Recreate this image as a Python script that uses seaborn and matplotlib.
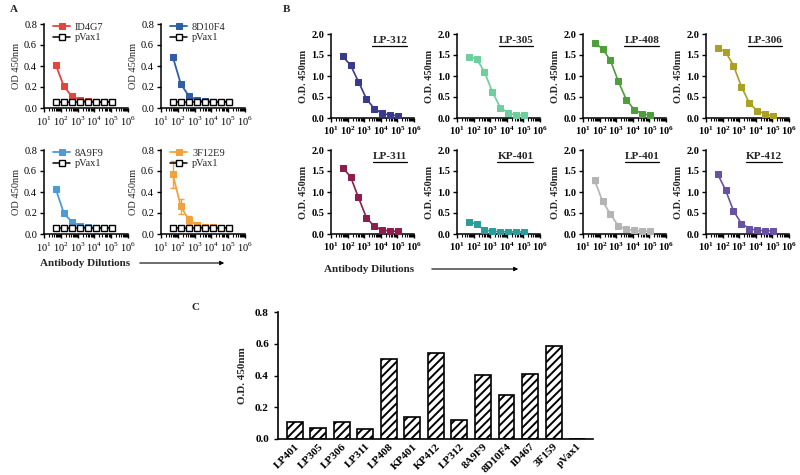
import math
import matplotlib
matplotlib.use('Agg')
import matplotlib.pyplot as plt
from matplotlib.lines import Line2D
from matplotlib.ticker import LogLocator, FuncFormatter, NullFormatter, FormatStrFormatter
import seaborn as sns
import pandas as pd

# ---- data ----
dilutions = [50, 150, 450, 1350, 4050, 12150, 36450, 109350]

# panel A (OD 450nm)
id4g7 = [0.41, 0.21, 0.11, 0.08, 0.065, 0.06, 0.06, 0.06]
d8d10f4 = [0.49, 0.23, 0.115, 0.075, 0.063, 0.06, 0.06, 0.06]
d8a9f9 = [0.43, 0.20, 0.115, 0.08, 0.063, 0.06, 0.06, 0.06]
d3f12e9 = [0.57, 0.265, 0.135, 0.085, 0.065, 0.062, 0.06, 0.06]
d3f12e9_err = [0.13, 0.07, 0.035, 0.015, 0.01, 0.01, 0.008, 0.008]
pvax1 = [0.06, 0.055, 0.055, 0.058, 0.058, 0.055, 0.055, 0.06]
a_names = ['ID4G7', '8D10F4', '8A9F9', '3F12E9']
a_colors = ['#e4443c', '#2f5ea6', '#4a9bd6', '#f2a23a']

# panel B (O.D. 450nm)
lp312 = [1.47, 1.26, 0.865, 0.46, 0.22, 0.11, 0.07, 0.055]
lp305 = [1.46, 1.41, 1.10, 0.62, 0.25, 0.12, 0.07, 0.06]
lp408 = [1.79, 1.65, 1.37, 0.87, 0.44, 0.20, 0.10, 0.065]
lp306 = [1.66, 1.58, 1.25, 0.75, 0.36, 0.17, 0.10, 0.04]
lp311 = [1.58, 1.365, 0.87, 0.39, 0.18, 0.095, 0.07, 0.065]
kp401 = [0.29, 0.24, 0.095, 0.065, 0.055, 0.05, 0.05, 0.05]
lp401 = [1.28, 0.78, 0.475, 0.19, 0.11, 0.085, 0.07, 0.065]
lp401_err = [0.06, 0.03, 0.02, 0.01, 0.01, 0.01, 0.01, 0.01]
kp412 = [1.43, 1.05, 0.555, 0.25, 0.13, 0.085, 0.08, 0.075]
b_names = ['LP-312', 'LP-305', 'LP-408', 'LP-306', 'LP-311', 'KP-401', 'LP-401', 'KP-412']
b_colors = ['#3a3a8c', '#6ccf9c', '#4f9e3c', '#a9a024', '#8c1d4e', '#2a9c9a', '#b4b4b4', '#6a52a3']

# panel C
c_labels = ['LP401', 'LP305', 'LP306', 'LP311', 'LP408', 'KP401', 'KP412',
            'LP312', '8A9F9', '8D10F4', 'ID467', '3F159', 'pVax1']
c_values = [0.105, 0.068, 0.108, 0.064, 0.505, 0.14, 0.54,
            0.122, 0.402, 0.276, 0.408, 0.588, 0.0]

# ---- style ----
sns.set_theme(style='ticks')
plt.rcParams['font.family'] = ['Liberation Serif', 'DejaVu Serif']
plt.rcParams['mathtext.fontset'] = 'custom'
plt.rcParams['mathtext.rm'] = 'Liberation Serif'
plt.rcParams['mathtext.bf'] = 'Liberation Serif:bold'
plt.rcParams['hatch.linewidth'] = 1.4

W, H = 800, 475
fig = plt.figure(figsize=(8, 4.75), dpi=100)


def px_axes(left, top, width, height):
    return fig.add_axes([left / W, 1 - (top + height) / H, width / W, height / H])


def style_axis(ax, bold):
    for s in ['top', 'right']:
        ax.spines[s].set_visible(False)
    for s in ['left', 'bottom']:
        ax.spines[s].set_linewidth(1.1)
        ax.spines[s].set_color('black')
    ax.tick_params(axis='both', which='major', length=3, width=1, labelsize=7.5, pad=2, colors='black')
    if bold:
        for lab in ax.get_yticklabels() + ax.get_xticklabels():
            lab.set_fontweight('bold')


def log_axis(ax, bold):
    ax.set_xscale('log')
    ax.set_xlim(10, 1e6)
    ax.xaxis.set_major_locator(LogLocator(base=10, numticks=10))
    ax.xaxis.set_minor_locator(LogLocator(base=10, subs=range(2, 10), numticks=20))
    ax.xaxis.set_minor_formatter(NullFormatter())
    if bold:
        fmt = lambda v, p: r'$\mathbf{10^{%d}}$' % round(math.log10(v))
    else:
        fmt = lambda v, p: r'$10^{%d}$' % round(math.log10(v))
    ax.xaxis.set_major_formatter(FuncFormatter(fmt))
    ax.tick_params(axis='x', which='minor', length=1.8, width=0.8, colors='black')
    ax.set_xlabel('')


# ---- panel A ----
a_series = [id4g7, d8d10f4, d8a9f9, d3f12e9]
a_pos = [(44, 24), (161, 24), (44, 150), (161, 150)]
for i, (name, color, vals) in enumerate(zip(a_names, a_colors, a_series)):
    ax = px_axes(a_pos[i][0], a_pos[i][1], 84, 84)
    df = pd.DataFrame({'dil': dilutions, 'od': vals})
    dfp = pd.DataFrame({'dil': dilutions, 'od': pvax1})
    if name == '3F12E9':
        ax.errorbar(dilutions, vals, yerr=d3f12e9_err, fmt='none', ecolor=color,
                    elinewidth=1, capsize=2.5, zorder=2)
    sns.lineplot(data=df, x='dil', y='od', ax=ax, color=color, marker='s',
                 markersize=5, markeredgecolor=color, linewidth=1.3, label=name, zorder=3)
    sns.lineplot(data=dfp, x='dil', y='od', ax=ax, color='black', marker='s',
                 markersize=5, markerfacecolor='white', markeredgecolor='black',
                 markeredgewidth=1, linewidth=1.1, label='pVax1', zorder=4)
    log_axis(ax, bold=False)
    ax.set_ylim(0, 0.8)
    ax.set_yticks([0, 0.2, 0.4, 0.6, 0.8])
    ax.yaxis.set_major_formatter(FormatStrFormatter('%.1f'))
    style_axis(ax, bold=False)
    ax.set_ylabel('OD 450nm', fontsize=7.5, labelpad=2)
    ax.legend(loc='upper left', bbox_to_anchor=(0.06, 1.07), frameon=False,
              fontsize=7.5, handlelength=1.6, handletextpad=0.5,
              labelspacing=0.15, borderaxespad=0)

# ---- panel B ----
b_series = [lp312, lp305, lp408, lp306, lp311, kp401, lp401, kp412]
b_lefts = [331, 457, 583, 706]
b_tops = [34, 150]
b_titles = []
for i, (name, color, vals) in enumerate(zip(b_names, b_colors, b_series)):
    ax = px_axes(b_lefts[i % 4], b_tops[i // 4], 83, 84)
    df = pd.DataFrame({'dil': dilutions, 'od': vals})
    if name == 'LP-401':
        ax.errorbar(dilutions, vals, yerr=lp401_err, fmt='none', ecolor=color,
                    elinewidth=1, capsize=2, zorder=2)
    sns.lineplot(data=df, x='dil', y='od', ax=ax, color=color, marker='s',
                 markersize=4, markeredgecolor=color, linewidth=1.2, zorder=3)
    log_axis(ax, bold=True)
    ax.set_ylim(0, 2.0)
    ax.set_yticks([0, 0.5, 1.0, 1.5, 2.0])
    ax.yaxis.set_major_formatter(FormatStrFormatter('%.1f'))
    style_axis(ax, bold=True)
    ax.set_ylabel('O.D. 450nm', fontsize=7.5, fontweight='bold', labelpad=2)
    t = ax.text(0.92, 0.98, name, transform=ax.transAxes, ha='right', va='top',
                fontsize=8, fontweight='bold')
    b_titles.append(t)

# ---- panel C ----
axc = px_axes(278, 312, 315, 127)
dfc = pd.DataFrame({'sample': c_labels, 'od': c_values})
sns.barplot(data=dfc, x='sample', y='od', ax=axc, color='white', edgecolor='black',
            linewidth=1.2, hatch='////', width=0.68, saturation=1)
axc.set_xlim(-0.72, 12.68)
axc.set_ylim(0, 0.8)
axc.set_yticks([0, 0.2, 0.4, 0.6, 0.8])
axc.yaxis.set_major_formatter(FormatStrFormatter('%.1f'))
for s in ['top', 'right']:
    axc.spines[s].set_visible(False)
for s in ['left', 'bottom']:
    axc.spines[s].set_linewidth(1.2)
    axc.spines[s].set_color('black')
axc.tick_params(axis='y', length=3, width=1, labelsize=8, colors='black')
axc.tick_params(axis='x', length=0, labelsize=8, pad=2, colors='black')
for lab in axc.get_yticklabels():
    lab.set_fontweight('bold')
for lab in axc.get_xticklabels():
    lab.set_fontweight('bold')
    lab.set_rotation(45)
    lab.set_ha('right')
    lab.set_rotation_mode('anchor')
axc.set_xlabel('')
axc.set_ylabel('O.D. 450nm', fontsize=8, fontweight='bold', labelpad=6)

# ---- annotations ----
fig.text(10 / W, 1 - 10 / H, 'A', fontsize=8, fontweight='bold', va='center')
fig.text(283 / W, 1 - 10 / H, 'B', fontsize=8, fontweight='bold', va='center')
fig.text(191 / W, 1 - 308 / H, 'C', fontsize=8, fontweight='bold', va='center')

fig.text(85 / W, 1 - 263 / H, 'Antibody Dilutions', fontsize=8, fontweight='bold',
         ha='center', va='center')
fig.text(369 / W, 1 - 269 / H, 'Antibody Dilutions', fontsize=8, fontweight='bold',
         ha='center', va='center')
fig.add_artist(plt.Annotation('', xy=(227 / W, 1 - 263 / H), xytext=(137 / W, 1 - 263 / H),
                              xycoords='figure fraction',
                              arrowprops=dict(arrowstyle='-|>', color='black', lw=0.8,
                                              mutation_scale=6)))
fig.add_artist(plt.Annotation('', xy=(521 / W, 1 - 269 / H), xytext=(429 / W, 1 - 269 / H),
                              xycoords='figure fraction',
                              arrowprops=dict(arrowstyle='-|>', color='black', lw=0.8,
                                              mutation_scale=6)))

# underline panel B titles
fig.canvas.draw()
renderer = fig.canvas.get_renderer()
for t in b_titles:
    bb = t.get_window_extent(renderer)
    y = bb.y0 - 1
    fig.add_artist(Line2D([bb.x0 / W, bb.x1 / W], [y / H, y / H], color='black', lw=0.9))

fig.savefig('out.png', dpi=100)
